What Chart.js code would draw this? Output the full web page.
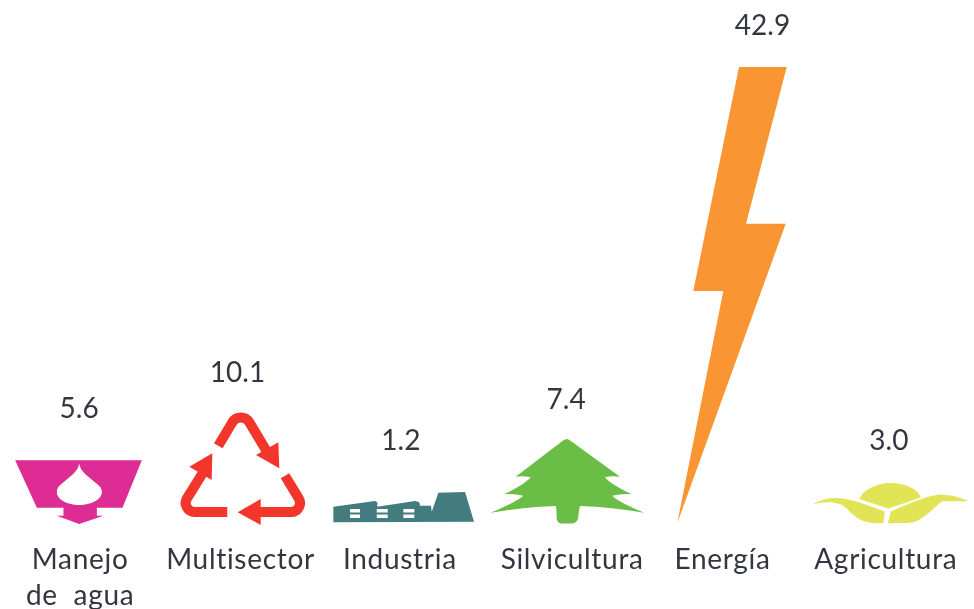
<!DOCTYPE html>
<html lang="es">
<head>
  <meta charset="UTF-8" />
  <title>Sectores</title>
  <script src="https://cdn.jsdelivr.net/npm/chart.js"></script>
  <style>
    html, body { margin: 0; padding: 0; background: #fff; }
    canvas { display: block; }
  </style>
</head>
<body>
  <canvas id="chart" width="974" height="609"></canvas>
  <script>
    const categories = [['Manejo', 'de  agua'], ['Multisector'], ['Industria'], ['Silvicultura'], ['Energía'], ['Agricultura']];
    const values = [5.6, 10.1, 1.2, 7.4, 42.9, 3.0];
    const colors = ['#dd2c93', '#f3362c', '#427c7e', '#6abd45', '#f99532', '#e0e455'];

    const textColor = '#33363f';
    const fontFace = '28px Lato, "Open Sans", sans-serif';

    // Iconos: origen en el centro de la barra, sobre la base. "ref" es la altura
    // de la barra para la que se dibujo el icono, asi el icono crece con el valor.
    const icons = [
      {
        ref: 59.5, valueDx: -2, valueGap: 54.5, labelDx: -1,
        fill: ['M-66 -62.7 L60.7 -62.7 L41.3 -15.3 L15.7 -15.3 L15.7 -7.3 L22.3 -7.3 L-2 1 L-24.3 -7.3 L-17.7 -7.3 L-17.7 -15.3 L-44.3 -15.3 Z ' +
          'M-2 -59.7 C-1 -52 5 -48 11 -43 C17 -38 20.7 -36 20.7 -31 C20.7 -23 9 -18 -2 -18 C-13 -18 -24.3 -23 -24.3 -31 C-24.3 -36 -21 -38 -15 -43 C-9 -48 -3 -52 -2 -59.7 Z']
      },
      {
        ref: 107.4, valueDx: -6, valueGap: 42.6, labelDx: -3,
        fill: ['M34.8 -80.7 L35.8 -54.7 L12.5 -68 Z', 'M17.2 -24 L17.2 2 L-5.8 -10.7 Z', 'M-31.2 -69.7 L-54.2 -56.3 L-31.8 -43 Z'],
        strokes: [
          [[-25.2, -77.3], [-2.7, -114.9], [26.5, -66.3], 10],
          [[41.5, -47.3], [63.5, -11], [13.8, -11], 9],
          [[-16.2, -11], [-65, -11], [-36.8, -56.3], 9]
        ]
      },
      {
        ref: 12.76, valueDx: -5, valueGap: 69, labelDx: -6,
        fill: ['M-72.5 -16.3 L-30.8 -22 L-28.5 -20.7 L-28.5 -16.3 L9.2 -22 L13.5 -20.7 L14.2 -17.3 L25.2 -17.3 L25.9 -11.3 L32.5 -30.3 L59.2 -31 L68.2 -1.3 L-72.5 -0.7 Z ' +
          'M-55.8 -14 h10 v3.6 h-10 Z M-55.8 -8.4 h10 v3.4 h-10 Z M-29.1 -14 h11 v3.6 h-11 Z M-29.1 -8.4 h11 v3.4 h-11 Z M-2.5 -14 h11 v3.6 h-11 Z M-2.5 -8.4 h11 v3.4 h-11 Z']
      },
      {
        ref: 78.7, valueDx: -2, valueGap: 44, labelDx: 4,
        fill: ['M-5 -82.5 Q-1.5 -85.5 2 -82.5 L51.8 -46.3 Q44 -47.5 36.8 -45.7 Q42 -39 63.5 -28.7 Q53 -29.5 44.1 -27.3 Q50 -21 76.1 -10.3 Q44 -16 11.8 -17 Q10.5 -12 10 -5 Q9 0.5 3 0.5 L-6 0.5 Q-11.5 0.5 -11.5 -5 Q-11.5 -12 -12.2 -17 Q-45 -16 -77.5 -10.3 Q-52 -21 -44.9 -27.3 Q-54 -29.5 -63.9 -28.7 Q-43 -39 -37.5 -45.7 Q-45 -47.5 -52.5 -46.3 Z']
      },
      {
        ref: 456, valueDx: 32, valueGap: 41, labelDx: -8,
        fill: ['M8.5 -456 L56.2 -456 L15.5 -299.3 L55.2 -299.3 L-53.2 0 L-7.2 -232 L-37.2 -232 Z']
      },
      {
        ref: 31.9, valueDx: -4, valueGap: 50, labelDx: -7,
        fill: ['M-33.5 -24 C-29.5 -34.7 -12.8 -40 -2.8 -40 C13.9 -40 25.5 -33 27.9 -25.5 L-4.5 -14.5 Z',
          'M-80.1 -18.7 Q-70 -24.7 -59.5 -25 C-48 -25.5 -35 -22 -8 -11.5 L-9.5 0.3 C-20 0.3 -25 -0.5 -29.5 -2 C-36 -4.5 -38 -7 -42.8 -11 C-46 -15 -50 -19 -59.5 -20.5 Q-70 -21.5 -80.1 -18.7 Z',
          'M75.5 -22 Q60 -28.5 47.2 -28.5 C35 -27.5 20 -21 -2 -11.5 L-5 0.3 C5 0.3 15 0 20.5 -0.7 C28 -3 30 -6 35.5 -9.7 C42 -15 46 -20 50.5 -22 Q62 -21.5 75.5 -22 Z']
      }
    ];

    const pictograms = {
      id: 'pictograms',
      afterDatasetsDraw(chart) {
        const ctx = chart.ctx;
        const bars = chart.getDatasetMeta(0).data;
        bars.forEach((bar, i) => {
          const icon = icons[i];
          const h = bar.base - bar.y;
          ctx.save();
          ctx.translate(bar.x, bar.base);
          ctx.scale(1, h / icon.ref);
          ctx.fillStyle = colors[i];
          ctx.strokeStyle = colors[i];
          icon.fill.forEach(d => ctx.fill(new Path2D(d), 'evenodd'));
          // flechas de reciclaje: trazos con esquina redondeada
          (icon.strokes || []).forEach(([a, b, c, r]) => {
            ctx.lineWidth = 10;
            ctx.beginPath();
            ctx.moveTo(a[0], a[1]);
            ctx.arcTo(b[0], b[1], c[0], c[1], r);
            ctx.lineTo(c[0], c[1]);
            ctx.stroke();
          });
          ctx.restore();

          ctx.save();
          ctx.font = fontFace;
          ctx.fillStyle = textColor;
          ctx.textAlign = 'center';
          ctx.textBaseline = 'middle';
          ctx.fillText(values[i].toFixed(1), bar.x + icon.valueDx, bar.y - icon.valueGap);
          ctx.letterSpacing = '0.7px';
          categories[i].forEach((line, n) => {
            ctx.fillText(line, bar.x + icon.labelDx, 560 + n * 36);
          });
          ctx.restore();
        });
      }
    };

    new Chart(document.getElementById('chart'), {
      type: 'bar',
      data: {
        labels: categories.map(c => c.join(' ')),
        datasets: [{ data: values, backgroundColor: 'transparent' }]
      },
      plugins: [pictograms],
      options: {
        responsive: false,
        animation: false,
        layout: { padding: { bottom: 86 } },
        plugins: { legend: { display: false }, tooltip: { enabled: false } },
        scales: {
          x: { display: false },
          y: { display: false, min: 0, max: 49.2 }
        }
      }
    });
  </script>
</body>
</html>
